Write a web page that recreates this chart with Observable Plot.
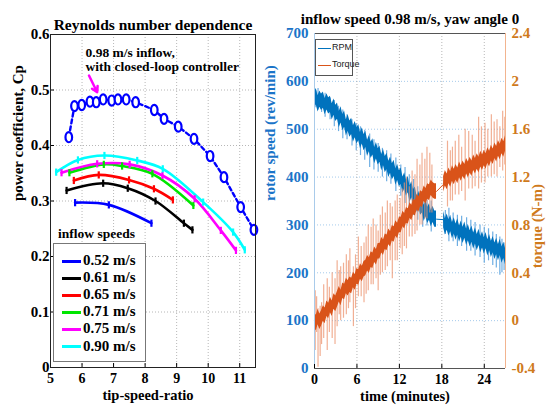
<!DOCTYPE html>
<html><head><meta charset="utf-8">
<script src="https://cdn.jsdelivr.net/npm/d3@7"></script>
<script src="https://cdn.jsdelivr.net/npm/@observablehq/plot@0.6"></script>
<style>
html,body{margin:0;padding:0;background:#fff;}
#wrap{position:relative;width:546px;height:406px;overflow:hidden;font-family:"Liberation Serif","Times New Roman",serif;}
#wrap svg{position:absolute;top:0;}
#wrap svg text{font-family:"Liberation Serif","Times New Roman",serif;}
.lg{position:absolute;background:#fff;box-sizing:border-box;}
.lgt{position:absolute;white-space:nowrap;line-height:1;}
</style></head><body><div id="wrap"></div>
<script>
// ---------- Left panel data ----------
const speeds = ["0.52 m/s","0.61 m/s","0.65 m/s","0.71 m/s","0.75 m/s","0.90 m/s"];
const speedColors = ["#0000ff","#000000","#ff0000","#00e600","#ff00ff","#00ffff"];
const tsr052 = [5.78, 6.85, 8.20];
const cp052  = [0.297, 0.293, 0.260];
const tsr061 = [5.51, 6.67, 7.45, 8.33, 9.23, 9.50];
const cp061  = [0.319, 0.332, 0.323, 0.300, 0.260, 0.248];
const tsr065 = [5.74, 6.53, 7.49, 8.28, 8.88];
const cp065  = [0.337, 0.347, 0.338, 0.322, 0.302];
const tsr071 = [5.60, 6.69, 7.27, 8.23, 9.53];
const cp071  = [0.351, 0.366, 0.363, 0.349, 0.292];
const tsr075 = [5.35, 6.48, 7.51, 8.55, 9.57, 10.40, 10.88];
const cp075  = [0.351, 0.367, 0.366, 0.346, 0.304, 0.247, 0.211];
const tsr090 = [5.18, 5.87, 6.71, 7.75, 8.56, 9.84, 10.79, 11.16];
const cp090  = [0.352, 0.374, 0.382, 0.373, 0.358, 0.298, 0.244, 0.212];
const tsr098 = [5.58,5.76,5.99,6.25,6.45,6.67,6.94,7.14,7.40,7.70,8.29,8.60,9.05,9.55,10.06,10.50,11.03,11.45];
const cp098  = [0.415,0.471,0.473,0.479,0.478,0.483,0.481,0.483,0.483,0.478,0.464,0.448,0.434,0.412,0.381,0.343,0.289,0.248];
const xTicksL = [5,6,7,8,9,10,11];
const yTicksL = [0,0.1,0.2,0.3,0.4,0.5,0.6];
const noteText = "0.98 m/s inflow,\nwith closed-loop controller";
const noteAt = [6.11, 0.555];
const arrowFrom = [6.22, 0.526];
const arrowTo = [6.48, 0.496];

// ---------- Right panel data ----------
const rpmTicks = [0,100,200,300,400,500,600,700];
const timeTicks = [0,6,12,18,24];
const timeStep = 0.25;
const rpmCenter = [
 560,568,553,563,556,
 561,547,557,549, 552,536,546,533, 538,520,530,514, 521,503,513,500,
 506,490,499,486, 493,476,486,472, 479,460,470,456, 463,445,455,442,
 448,430,441,426, 433,416,425,411, 418,400,410,396, 402,383,392,377,
 384,364,374,357, 362,343,353,337, 342,324,334,320, 327,313,322,312,
 312,null,null,null, 311,296,306,294, 303,288,298,285, 296,281,291,278,
 289,274,284,271, 281,266,277,263, 274,259,269,256, 267,252,263,249,
 259,245,255,242, 253,237,247,234];
const torqueCenter = [
 0.00,-0.02,0.03,-0.01,0.02,
 0.06,0.04,0.10,0.08, 0.13,0.10,0.16,0.14, 0.18,0.22,0.19,0.25, 0.24,0.29,0.27,0.30,
 0.29,0.34,0.32,0.37, 0.36,0.41,0.39,0.43, 0.44,0.48,0.46,0.51, 0.50,0.55,0.53,0.58,
 0.58,0.63,0.61,0.66, 0.65,0.70,0.68,0.73, 0.72,0.77,0.75,0.80, 0.80,0.85,0.83,0.88,
 0.87,0.92,0.90,0.95, 0.94,0.99,0.97,1.02, 1.01,1.06,1.04,1.08, 1.07,1.11,1.09,1.08,
 1.08,null,null,null, 1.14,1.19,1.16,1.21, 1.18,1.23,1.20,1.24, 1.21,1.26,1.23,1.27,
 1.24,1.29,1.26,1.30, 1.27,1.32,1.29,1.33, 1.30,1.35,1.32,1.36, 1.33,1.38,1.35,1.40,
 1.37,1.42,1.39,1.44, 1.41,1.46,1.43,1.48];
const rpmSpikeT  = [0.2,0.5,1.0,1.5,2.2,2.8,3.4,4.0,4.6,5.3,5.9,6.5,7.1,7.8,8.4,9.0,9.6,10.2,10.8,11.5,12.2,12.8,13.4,14.0,14.6,15.3,15.9,16.5,18.5,19.0,19.6,20.2,20.8,21.5,22.1,22.7,23.4,24.0,24.6,25.2,25.7,26.2,26.5,26.8];
const rpmSpikeLo = [545,540,535,525,520,505,495,480,478,465,455,445,435,420,415,410,400,390,385,370,360,345,335,320,310,295,298,285,280,265,265,255,255,245,245,235,232,220,225,215,210,195,200,205];
const rpmSpikeHi = [580,585,575,575,565,560,548,540,530,520,512,505,498,490,478,470,460,455,448,440,425,420,405,395,380,370,352,350,330,335,325,320,318,315,310,305,300,295,292,285,280,275,270,262];
const torqueSpikeT  = [0.1,0.3,0.5,0.8,1.0,1.3,1.8,2.1,2.5,2.9,3.2,3.5,3.7,4.1,4.5,4.8,5.0,5.5,5.8,6.2,6.6,7.0,7.3,7.6,8.0,8.3,8.7,9.0,9.3,9.6,10.0,10.3,10.7,11.0,11.4,11.7,12.1,12.4,12.7,13.0,13.4,13.8,14.2,14.5,14.9,15.2,15.6,15.9,16.3,16.6,18.8,19.2,19.5,19.9,20.4,20.8,21.3,21.8,22.3,22.7,23.2,23.6,24.1,24.5,25.0,25.4,25.8,26.2,26.6,26.9];
const torqueSpikeLo = [-0.25,-0.1,-0.39,-0.3,-0.2,-0.15,-0.25,-0.1,-0.15,-0.2,-0.05,0.05,0.0,0.02,0.05,0.1,0.15,-0.05,0.1,0.2,0.2,0.15,0.22,0.25,0.3,0.3,0.35,0.25,0.38,0.4,0.42,0.45,0.5,0.35,0.5,0.5,0.6,0.55,0.62,0.6,0.7,0.7,0.72,0.75,0.8,0.8,0.85,0.85,0.9,0.9,0.95,1.0,1.0,1.05,1.05,1.08,1.0,1.1,1.1,1.12,1.1,1.15,1.15,1.2,1.2,1.22,1.2,1.28,1.25,1.3];
const torqueSpikeHi = [0.25,0.2,0.1,0.12,0.15,0.3,0.35,0.28,0.4,0.35,0.5,0.42,0.45,0.48,0.55,0.5,0.6,0.45,0.55,0.7,0.62,0.65,0.7,0.8,0.78,0.85,0.8,0.75,0.88,0.95,0.9,1.0,0.98,0.95,1.0,1.05,1.02,1.1,1.15,1.2,1.12,1.25,1.22,1.35,1.3,1.4,1.35,1.45,1.4,1.3,1.5,1.42,1.45,1.5,1.55,1.45,1.6,1.58,1.55,1.5,1.7,1.62,1.65,1.6,1.72,1.66,1.68,1.62,1.75,1.7];
const torqueZeroRpm = 100, rpmPerTorque = 250;
const seriesNames = ["RPM","Torque"];

// ---------- build tables ----------
const curveSets = [[tsr052,cp052],[tsr061,cp061],[tsr065,cp065],[tsr071,cp071],[tsr075,cp075],[tsr090,cp090]];
const curves = curveSets.flatMap(([xs,ys],k) => xs.map((x,i)=>({speed:speeds[k], tsr:x, cp:ys[i]})));
const ctrl = tsr098.map((x,i)=>({tsr:x, cp:cp098[i]}));
const tq = v => torqueZeroRpm + rpmPerTorque*v;
const series = rpmCenter.map((r,i)=>({t:i*timeStep, rpm:r, torque:torqueCenter[i]}));
const rpmSp = rpmSpikeT.map((t,i)=>({t, lo:rpmSpikeLo[i], hi:rpmSpikeHi[i]}));
const tqSp = torqueSpikeT.map((t,i)=>({t, lo:torqueSpikeLo[i], hi:torqueSpikeHi[i]}));

const vbar = {draw(ctx,size){const r=Math.sqrt(size/Math.PI); ctx.moveTo(0,-r); ctx.lineTo(0,r);}};
const ell = {draw(ctx,size){const r=Math.sqrt(size/Math.PI); const rx=r*0.72, ry=r*1.1, k=0.5523;
  ctx.moveTo(rx,0); ctx.bezierCurveTo(rx,ry*k,rx*k,ry,0,ry); ctx.bezierCurveTo(-rx*k,ry,-rx,ry*k,-rx,0);
  ctx.bezierCurveTo(-rx,-ry*k,-rx*k,-ry,0,-ry); ctx.bezierCurveTo(rx*k,-ry,rx,-ry*k,rx,0); ctx.closePath();}};

const serif = "Liberation Serif, Times New Roman, serif";
const tf = {fontFamily: serif, fontWeight: "bold", fontSize: 15};
const tfx = {fontFamily: serif, fontWeight: "bold", fontSize: 14};
const wrap = document.getElementById("wrap");

// ---------- Left plot ----------
const left = Plot.plot({
  width: 260, height: 406,
  marginLeft: 50, marginRight: 5, marginTop: 34, marginBottom: 39,
  style: {background:"transparent", fontFamily: serif, fontSize:"15px", fontWeight:"bold", color:"#000", overflow:"visible"},
  x: {domain:[5,11.5]},
  y: {domain:[0,0.6]},
  color: {domain: speeds, range: speedColors},
  marks: [
    Plot.gridX(xTicksL.slice(1), {stroke:"#999", strokeOpacity:0.7, strokeDasharray:"1,2"}),
    Plot.gridY(yTicksL.slice(1,-1), {stroke:"#999", strokeOpacity:0.7, strokeDasharray:"1,2"}),
    Plot.axisX({ticks:xTicksL, tickSize:-4, tickPadding:10, label:null, tickFormat:d=>String(d), ...tfx}),
    Plot.axisY({ticks:yTicksL, tickSize:-4, tickPadding:5, label:null, tickFormat:d=>d===0?"0":d.toFixed(1), ...tf}),
    Plot.line(curves, {x:"tsr", y:"cp", z:"speed", stroke:"speed", strokeWidth:2.6, curve:"catmull-rom"}),
    Plot.dot(curves, {x:"tsr", y:"cp", stroke:"speed", symbol:vbar, r:3.6, strokeWidth:2.2}),
    Plot.line(ctrl, {x:"tsr", y:"cp", stroke:"#0000ff", strokeWidth:2.4, strokeDasharray:"4,3"}),
    Plot.dot(ctrl, {x:"tsr", y:"cp", stroke:"#0000ff", symbol:ell, r:4.6, strokeWidth:2.2, fill:"white"}),
    Plot.text([noteText], {x:()=>noteAt[0], y:()=>noteAt[1], text:d=>d, textAnchor:"start", lineAnchor:"middle", lineHeight:1, ...tf, fontSize:13.5}),
    Plot.arrow([0], {x1:()=>arrowFrom[0], y1:()=>arrowFrom[1], x2:()=>arrowTo[0], y2:()=>arrowTo[1], stroke:"#ff00ff", strokeWidth:2.5, headLength:7}),
    Plot.frame({stroke:"#222", strokeWidth:1}),
    Plot.text(["Reynolds number dependence"], {frameAnchor:"top", dy:-16, text:d=>d, ...tf, fontSize:15.5}),
    Plot.text(["tip-speed-ratio"], {frameAnchor:"bottom", dy:32, dx:-5, text:d=>d, ...tf, fontSize:14.5}),
    Plot.text(["power coefficient, Cp"], {frameAnchor:"left", dx:-32, rotate:-90, text:d=>d, ...tf})
  ]
});
left.style.left = "0px";
wrap.appendChild(left);

// ---------- Right plot ----------
const blue = "#0072bd", orange = "#d95319";
const blueLab = "#1a74c8", orangeLab = "#cf7a1c";
const right = Plot.plot({
  width: 286, height: 406,
  marginLeft: 54, marginRight: 41, marginTop: 33, marginBottom: 38,
  style: {background:"transparent", fontFamily: serif, fontSize:"15px", fontWeight:"bold", color:"#000", overflow:"visible"},
  x: {domain:[0,27]},
  y: {domain:[0,700]},
  marks: [
    Plot.gridY(rpmTicks.slice(1,-1), {stroke:"#8fbde6", strokeOpacity:0.8, strokeDasharray:"1,2"}),
    Plot.gridX(timeTicks.slice(1), {stroke:"#999", strokeOpacity:0.7, strokeDasharray:"1,2"}),
    Plot.ruleX(rpmSp, {x:"t", y1:"lo", y2:"hi", stroke:"#6eaee3", strokeWidth:1.2}),
    Plot.areaY(series, {x:"t", y1:d=>d.rpm==null?null:d.rpm-17, y2:d=>d.rpm==null?null:d.rpm+17, fill:blue}),
    Plot.line(series.filter(d=>d.rpm!=null), {x:"t", y:"rpm", stroke:blue, strokeWidth:1}),
    Plot.ruleX(tqSp, {x:"t", y1:d=>tq(d.lo), y2:d=>tq(d.hi), stroke:"#ec9470", strokeOpacity:0.75, strokeWidth:1.2}),
    Plot.areaY(series, {x:"t", y1:d=>d.torque==null?null:tq(d.torque-0.065), y2:d=>d.torque==null?null:tq(d.torque+0.065), fill:orange}),
    Plot.line(series.filter(d=>d.torque!=null), {x:"t", y:d=>tq(d.torque), stroke:orange, strokeWidth:1}),
    Plot.ruleY([700], {stroke:"#555"}),
    Plot.ruleY([0], {stroke:"#555"}),
    Plot.ruleX([0], {stroke:"#a9cbea"}),
    Plot.ruleX([27], {stroke:"#f2b48f"}),
    Plot.axisX({ticks:timeTicks, tickSize:-4, tickPadding:10, label:null, tickFormat:d=>String(d), color:"#000", ...tfx}),
    Plot.axisY({anchor:"left", ticks:rpmTicks, tickSize:0, tickPadding:6, label:null, tickFormat:d=>String(d), color:blueLab, ...tf}),
    Plot.axisY({anchor:"right", ticks:rpmTicks, tickSize:0, tickPadding:6, label:null, tickFormat:d=>String(+((d-torqueZeroRpm)/rpmPerTorque).toFixed(1)), color:orangeLab, ...tf}),
    Plot.text(["inflow speed 0.98 m/s, yaw angle 0"], {frameAnchor:"top", dy:-20, text:d=>d, ...tf}),
    Plot.text(["time (minutes)"], {frameAnchor:"bottom", dy:32, dx:-5, text:d=>d, ...tf, fontSize:14.5}),
    Plot.text(["rotor speed (rev/min)"], {frameAnchor:"left", dx:-44, rotate:-90, text:d=>d, ...tf, fill:blueLab}),
    Plot.text(["torque (N-m)"], {frameAnchor:"right", dx:32, dy:-17, rotate:-90, text:d=>d, ...tf, fill:orangeLab})
  ]
});
right.style.left = "260px";
wrap.appendChild(right);

// ---------- Left legend ----------
const lt = document.createElement("div");
lt.className = "lgt";
lt.style.cssText = "left:58px;top:227px;font-size:13.5px;font-weight:bold;";
lt.textContent = "inflow speeds";
wrap.appendChild(lt);
const lb = document.createElement("div");
lb.className = "lg";
lb.style.cssText = "left:53px;top:243px;width:93px;height:119px;border:1px solid #777;";
wrap.appendChild(lb);
speeds.forEach((s,i)=>{
  const y = 17 + i*17.1;
  const ln = document.createElement("div");
  ln.style.cssText = `position:absolute;left:8px;top:${y-1.5}px;width:19px;height:3px;background:${speedColors[i]};`;
  lb.appendChild(ln);
  const tx = document.createElement("div");
  tx.className = "lgt";
  tx.style.cssText = `left:29px;top:${y-8}px;font-size:15px;font-weight:bold;`;
  tx.textContent = s;
  lb.appendChild(tx);
});

// ---------- Right legend ----------
const rb = document.createElement("div");
rb.className = "lg";
rb.style.cssText = "left:315px;top:39px;width:38px;height:37px;border:1px solid #555;";
wrap.appendChild(rb);
[blue, orange].forEach((c,i)=>{
  const y = 8 + i*17;
  const ln = document.createElement("div");
  ln.style.cssText = `position:absolute;left:2px;top:${y}px;width:13px;height:1px;background:${c};`;
  rb.appendChild(ln);
  const tx = document.createElement("div");
  tx.className = "lgt";
  tx.style.cssText = `left:16px;top:${y-5}px;font-size:9px;font-family:'Liberation Sans Narrow','Liberation Sans',sans-serif;font-stretch:condensed;color:#222;`;
  tx.textContent = seriesNames[i];
  rb.appendChild(tx);
});
</script></body></html>
